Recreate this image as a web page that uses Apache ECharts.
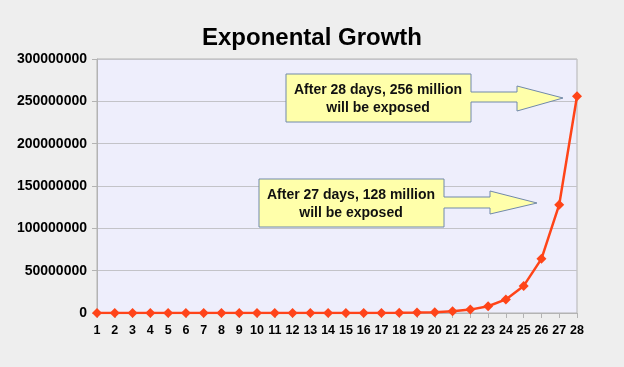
<!DOCTYPE html>
<html>
<head>
<meta charset="utf-8">
<script src="https://cdn.jsdelivr.net/npm/echarts@6/dist/echarts.min.js"></script>
<style>
html,body{margin:0;padding:0;background:#eeeeee;}
#c{width:624px;height:367px;}
</style>
</head>
<body>
<div id="c"></div>
<script>
var days = ['1','2','3','4','5','6','7','8','9','10','11','12','13','14','15','16','17','18','19','20','21','22','23','24','25','26','27','28'];
var exposed = [2, 4, 8, 15, 31, 61, 122, 244, 488, 977, 1953, 3906, 7813, 15625, 31250, 62500, 125000, 250000, 500000, 1000000, 2000000, 4000000, 8000000, 16000000, 32000000, 64000000, 128000000, 256000000];
var yTicks = [0, 50000000, 100000000, 150000000, 200000000, 250000000, 300000000];
var titleText = 'Exponental Growth';
var note1 = 'After 28 days, 256 million\nwill be exposed';
var note2 = 'After 27 days, 128 million\nwill be exposed';

var chart = echarts.init(document.getElementById('c'), null, {renderer:'canvas'});
var font = 'Liberation Sans, Arial, sans-serif';

function callout(bx1, by1, bx2, by2, sy1, sy2, hx, hy1, hy2, tx, ty) {
  return [[bx1,by1],[bx2,by1],[bx2,sy1],[hx,sy1],[hx,hy1],[tx,ty],[hx,hy2],[hx,sy2],[bx2,sy2],[bx2,by2],[bx1,by2]];
}

chart.setOption({
  backgroundColor: '#eeeeee',
  animation: false,
  title: {
    text: titleText, left: 'center', top: 21,
    textStyle: {fontFamily: font, fontSize: 24, fontWeight: 'bold', color: '#000'}
  },
  grid: {left: 97, right: 47, top: 59, bottom: 54, show: true, backgroundColor: '#eeeefc', borderColor: '#b3b3b3', borderWidth: 1},
  xAxis: {
    type: 'category', data: days, boundaryGap: false,
    axisLine: {lineStyle: {color: '#b3b3b3', width: 1}},
    axisTick: {show: true, length: 5, lineStyle: {color: '#b3b3b3'}, alignWithLabel: true},
    axisLabel: {fontFamily: font, fontSize: 12.5, fontWeight: 'bold', color: '#000', margin: 11, interval: 0},
    splitLine: {show: false}
  },
  yAxis: {
    type: 'value', min: yTicks[0], max: yTicks[yTicks.length-1], interval: yTicks[1]-yTicks[0],
    axisLine: {show: true, lineStyle: {color: '#b3b3b3'}},
    axisTick: {show: true, length: 5, lineStyle: {color: '#b3b3b3'}},
    axisLabel: {fontFamily: font, fontSize: 14, fontWeight: 'bold', color: '#000', margin: 10, formatter: function(v){return String(v);}},
    splitLine: {show: true, lineStyle: {color: '#c3c3c8', width: 1}}
  },
  series: [{
    type: 'line', data: exposed,
    symbol: 'diamond', symbolSize: 10,
    lineStyle: {color: '#ff4418', width: 2.5},
    itemStyle: {color: '#ff4418'}
  }],
  graphic: [
    {type: 'polygon', z: 100,
     shape: {points: callout(286, 74, 471, 122, 92, 102, 517, 86, 111, 563, 98)},
     style: {fill: '#ffffaa', stroke: '#7189aa', lineWidth: 1}},
    {type: 'text', z: 101, x: 378, y: 99,
     style: {text: note1, align: 'center', verticalAlign: 'middle', textAlign: 'center', textVerticalAlign: 'middle', font: 'bold 14px ' + font, fill: '#111', lineHeight: 18}},
    {type: 'polygon', z: 100,
     shape: {points: callout(259, 179, 444, 227, 197, 208, 490, 191, 214, 537, 203)},
     style: {fill: '#ffffaa', stroke: '#7189aa', lineWidth: 1}},
    {type: 'text', z: 101, x: 351, y: 204,
     style: {text: note2, align: 'center', verticalAlign: 'middle', textAlign: 'center', textVerticalAlign: 'middle', font: 'bold 14px ' + font, fill: '#111', lineHeight: 18}}
  ]
});
</script>
</body>
</html>
